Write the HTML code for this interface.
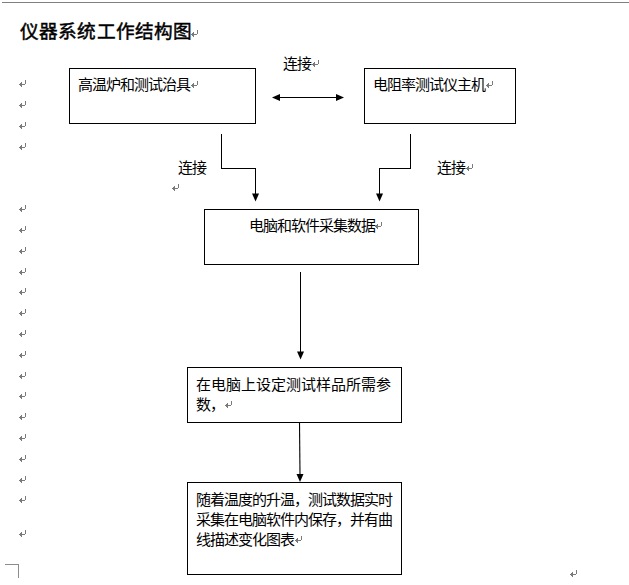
<!DOCTYPE html>
<html lang="zh-CN">
<head>
<meta charset="utf-8">
<style>
html,body{margin:0;padding:0;background:#fff;}
body{width:629px;height:585px;position:relative;overflow:hidden;font-family:"Liberation Sans",sans-serif;color:#000;}
.t{position:absolute;white-space:nowrap;font-size:15px;line-height:15px;letter-spacing:-1px;}
.b{position:absolute;box-sizing:border-box;border:1px solid #000;}
svg{position:absolute;left:0;top:0;}
</style>
</head>
<body>
<div style="position:absolute;left:2px;top:2px;width:627px;height:1px;background:#808080;"></div>
<div style="position:absolute;left:5px;top:564px;width:14px;height:1px;background:#8c8c8c;"></div>
<div style="position:absolute;left:18px;top:564px;width:1px;height:14px;background:#8c8c8c;"></div>
<div class="t" style="left:20px;top:22px;font-size:18.67px;line-height:19px;font-weight:normal;-webkit-text-stroke:0.45px #000;letter-spacing:0.15px;">仪器系统工作结构图</div>

<div class="b" style="left:69px;top:68px;width:187px;height:56px;"></div>
<div class="b" style="left:364px;top:68px;width:152px;height:56px;"></div>
<div class="b" style="left:204px;top:209px;width:215px;height:56px;"></div>
<div class="b" style="left:187px;top:367px;width:215px;height:56px;"></div>
<div class="b" style="left:187px;top:482px;width:215px;height:93px;"></div>

<div class="t" style="left:78px;top:77px;">高温炉和测试治具</div>
<div class="t" style="left:373px;top:77px;">电阻率测试仪主机</div>
<div class="t" style="left:283px;top:56px;">连接</div>
<div class="t" style="left:178px;top:160px;">连接</div>
<div class="t" style="left:437px;top:160px;">连接</div>
<div class="t" style="left:249px;top:218px;">电脑和软件采集数据</div>
<div class="t" style="left:196px;top:377px;letter-spacing:0px;">在电脑上设定测试样品所需参</div>
<div class="t" style="left:196px;top:397px;">数，</div>
<div class="t" style="left:196px;top:492px;">随着温度的升温，测试数据实时</div>
<div class="t" style="left:196px;top:512px;">采集在电脑软件内保存，并有曲</div>
<div class="t" style="left:196px;top:532px;">线描述变化图表</div>

<svg width="629" height="585" viewBox="0 0 629 585">
<g stroke="#000" stroke-width="1" fill="none" shape-rendering="crispEdges">
<line x1="279" y1="97.5" x2="336" y2="97.5"/>
<polyline points="221.5,134 221.5,168.5 255.5,168.5 255.5,194"/>
<polyline points="410.5,134 410.5,168.5 379.5,168.5 379.5,194"/>
<line x1="300.5" y1="272" x2="300.5" y2="352"/>

</g>
<line x1="299.5" y1="422" x2="300" y2="475" stroke="#000" stroke-width="1.1"/>
<g fill="#000">
<polygon points="272,97.5 280,94 280,101"/>
<polygon points="344,97.5 336,94 336,101"/>
<polygon points="255.5,201.5 252,193.5 259,193.5"/>
<polygon points="379.5,201.5 376,193.5 383,193.5"/>
<polygon points="300.5,359.5 297,351.5 304,351.5"/>
<polygon points="300,482 296.5,474 303.5,474"/>
</g>
<g fill="#7a7a7a" shape-rendering="crispEdges">
<path d="M25 80h1v4h-1z M19 84h6v1h-6z M20 83h1v3h-1z M21 82h1v5h-1z M25 101h1v4h-1z M19 105h6v1h-6z M20 104h1v3h-1z M21 103h1v5h-1z M25 122h1v4h-1z M19 126h6v1h-6z M20 125h1v3h-1z M21 124h1v5h-1z M25 143h1v4h-1z M19 147h6v1h-6z M20 146h1v3h-1z M21 145h1v5h-1z M25 205h1v4h-1z M19 209h6v1h-6z M20 208h1v3h-1z M21 207h1v5h-1z M25 226h1v4h-1z M19 230h6v1h-6z M20 229h1v3h-1z M21 228h1v5h-1z M25 247h1v4h-1z M19 251h6v1h-6z M20 250h1v3h-1z M21 249h1v5h-1z M25 268h1v4h-1z M19 272h6v1h-6z M20 271h1v3h-1z M21 270h1v5h-1z M25 288h1v4h-1z M19 292h6v1h-6z M20 291h1v3h-1z M21 290h1v5h-1z M25 309h1v4h-1z M19 313h6v1h-6z M20 312h1v3h-1z M21 311h1v5h-1z M25 330h1v4h-1z M19 334h6v1h-6z M20 333h1v3h-1z M21 332h1v5h-1z M25 351h1v4h-1z M19 355h6v1h-6z M20 354h1v3h-1z M21 353h1v5h-1z M25 372h1v4h-1z M19 376h6v1h-6z M20 375h1v3h-1z M21 374h1v5h-1z M25 392h1v4h-1z M19 396h6v1h-6z M20 395h1v3h-1z M21 394h1v5h-1z M25 413h1v4h-1z M19 417h6v1h-6z M20 416h1v3h-1z M21 415h1v5h-1z M25 434h1v4h-1z M19 438h6v1h-6z M20 437h1v3h-1z M21 436h1v5h-1z M25 455h1v4h-1z M19 459h6v1h-6z M20 458h1v3h-1z M21 457h1v5h-1z M25 476h1v4h-1z M19 480h6v1h-6z M20 479h1v3h-1z M21 478h1v5h-1z M25 496h1v4h-1z M19 500h6v1h-6z M20 499h1v3h-1z M21 498h1v5h-1z M25 530h1v4h-1z M19 534h6v1h-6z M20 533h1v3h-1z M21 532h1v5h-1z M197 30h1v4h-1z M191 34h6v1h-6z M192 33h1v3h-1z M193 32h1v5h-1z M197 81h1v4h-1z M191 85h6v1h-6z M192 84h1v3h-1z M193 83h1v5h-1z M492 81h1v4h-1z M486 85h6v1h-6z M487 84h1v3h-1z M488 83h1v5h-1z M318 60h1v4h-1z M312 64h6v1h-6z M313 63h1v3h-1z M314 62h1v5h-1z M178 184h1v4h-1z M172 188h6v1h-6z M173 187h1v3h-1z M174 186h1v5h-1z M472 164h1v4h-1z M466 168h6v1h-6z M467 167h1v3h-1z M468 166h1v5h-1z M381 222h1v4h-1z M375 226h6v1h-6z M376 225h1v3h-1z M377 224h1v5h-1z M231 401h1v4h-1z M225 405h6v1h-6z M226 404h1v3h-1z M227 403h1v5h-1z M301 536h1v4h-1z M295 540h6v1h-6z M296 539h1v3h-1z M297 538h1v5h-1z M576 570h1v4h-1z M570 574h6v1h-6z M571 573h1v3h-1z M572 572h1v5h-1z"/>
</g>
</svg>
</body>
</html>
